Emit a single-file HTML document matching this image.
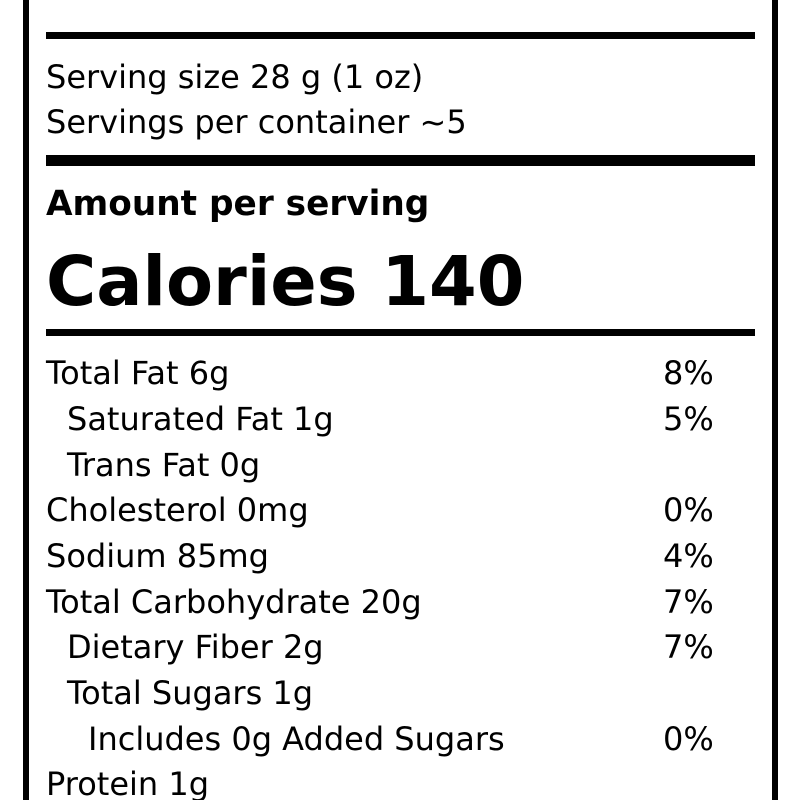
<!DOCTYPE html>
<html><head><style>
html,body{margin:0;padding:0;background:#fff;}
body{width:800px;height:800px;position:relative;overflow:hidden;font-family:"DejaVu Sans","Liberation Sans",sans-serif;color:#000;}
.b{position:absolute;background:#000;}
</style></head><body>
<div class="b" style="left:23px;top:0;width:6px;height:800px"></div>
<div class="b" style="left:772px;top:0;width:6px;height:800px"></div>
<div class="b" style="left:46px;top:32px;width:709px;height:7px"></div>
<div class="b" style="left:46px;top:155px;width:709px;height:11px"></div>
<div class="b" style="left:46px;top:329px;width:709px;height:7px"></div>
<svg width="800" height="800" style="position:absolute;left:0;top:0" font-family="DejaVu Sans, Liberation Sans, sans-serif">
<g font-size="32">
<text x="46" y="88">Serving size 28 g (1 oz)</text>
<text x="46" y="133">Servings per container ~5</text>
</g>
<text x="46" y="215" font-size="34.3" font-weight="bold">Amount per serving</text>
<text x="46" y="305" font-size="68.5" font-weight="bold">Calories 140</text>
<g font-size="32">
<text x="46" y="384">Total Fat 6g</text><text x="663" y="384">8%</text>
<text x="67" y="430">Saturated Fat 1g</text><text x="663" y="430">5%</text>
<text x="67" y="476">Trans Fat 0g</text>
<text x="46" y="521">Cholesterol 0mg</text><text x="663" y="521">0%</text>
<text x="46" y="567">Sodium 85mg</text><text x="663" y="567">4%</text>
<text x="46" y="613">Total Carbohydrate 20g</text><text x="663" y="613">7%</text>
<text x="67" y="658">Dietary Fiber 2g</text><text x="663" y="658">7%</text>
<text x="67" y="704">Total Sugars 1g</text>
<text x="88" y="750">Includes 0g Added Sugars</text><text x="663" y="750">0%</text>
<text x="46" y="795">Protein 1g</text>
</g>
</svg>
</body></html>
